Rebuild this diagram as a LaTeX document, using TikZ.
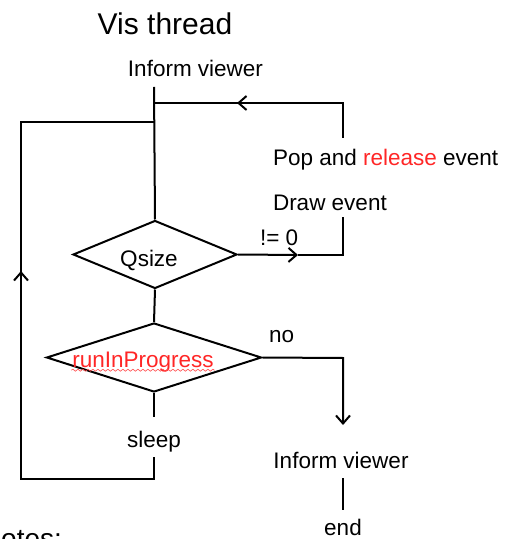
\documentclass[tikz,border=0pt]{standalone}
\usepackage{fontspec}
\setmainfont{Liberation Sans}
\usepackage{tikz}
\usetikzlibrary{arrows.meta, shapes.geometric, decorations.pathmorphing}

\begin{document}
\begin{tikzpicture}[x=0.5pt, y=-0.5pt, line width=1pt,
    >={Straight Barb[length=4pt, width=7pt, line width=1pt]},
    txt/.style={inner sep=0pt, font=\fontsize{11.25}{13}\selectfont},
    decision/.style={diamond, draw, inner sep=0pt}]
  \useasboundingbox (0,0) rectangle (504,539);
  \clip (0,0) rectangle (504,539);
  % heading
  \node[inner sep=0pt, font=\fontsize{15}{18}\selectfont, anchor=base] (title) at (165,35) {Vis thread};
  \node[txt, anchor=base] (informtop) at (195.5,77) {Inform viewer};
  % decisions
  \node[decision, minimum width=82pt, minimum height=34pt] (qsize) at (155,254.5) {};
  \node[txt, anchor=base] (qtxt) at (149,266) {Qsize};
  \node[decision, minimum width=107.5pt, minimum height=34.5pt] (running) at (154,357.5) {};
  \node[txt, anchor=base, text=red!85] (runtxt) at (143,367) {runInProgress};
  \draw[red!70, line width=0.3pt, decorate,
        decoration={snake, amplitude=0.5pt, segment length=2.5pt}]
    ([yshift=-1.6pt]runtxt.base west) -- ([yshift=-1.6pt]runtxt.base east);
  % texts on the right
  \node[txt, anchor=base west] (popev) at (272,166) {Pop and \textcolor{red!85}{release} event};
  \node[txt, anchor=base west] (drawev) at (272,211) {Draw event};
  \node[txt, anchor=base west] (nonzero) at (259,245) {!= 0};
  \node[txt, anchor=base west] (nolbl) at (268,342) {no};
  \node[txt, anchor=base] (sleep) at (154,447) {sleep};
  \node[txt, anchor=base] (informend) at (341,468) {Inform viewer};
  \node[txt, anchor=base] (theend) at (343,535) {end};
  \node[inner sep=0pt, font=\fontsize{14}{17}\selectfont, anchor=base west] (notes) at (-20,548) {Notes:};
  % connector points
  \coordinate (topin) at (154,87);
  \coordinate (backin) at (154,103);
  \coordinate (loopin) at (154,122);
  \coordinate (qright) at (343,255);
  \coordinate (qtop) at (343,217);
  \coordinate (poptop) at (343,138);
  \coordinate (rright) at (343,358);
  \coordinate (sleeptop) at (154,417);
  \coordinate (sleepbot) at (154,457);
  % main line
  \draw (topin) -- (qsize.north);
  \draw (qsize.south) -- (running.north);
  \draw (running.south) -- (sleeptop);
  % queue not empty
  \draw[->] (qsize.east) -- (298,255);
  \draw (298,255) -- (qright) -- (qtop);
  \draw[->] (poptop) -- (343,103) -- (237,103);
  \draw (239,103) -- (backin);
  % sleep loop
  \draw[->] (sleepbot) -- (154,479) -- (21,479) -- (21,271);
  \draw (21,273) -- (21,122) -- (loopin);
  % finished
  \draw[->] (running.east) -- (rright) -- (343,425);
  \draw (343,478) -- (343,510);
\end{tikzpicture}
\end{document}
